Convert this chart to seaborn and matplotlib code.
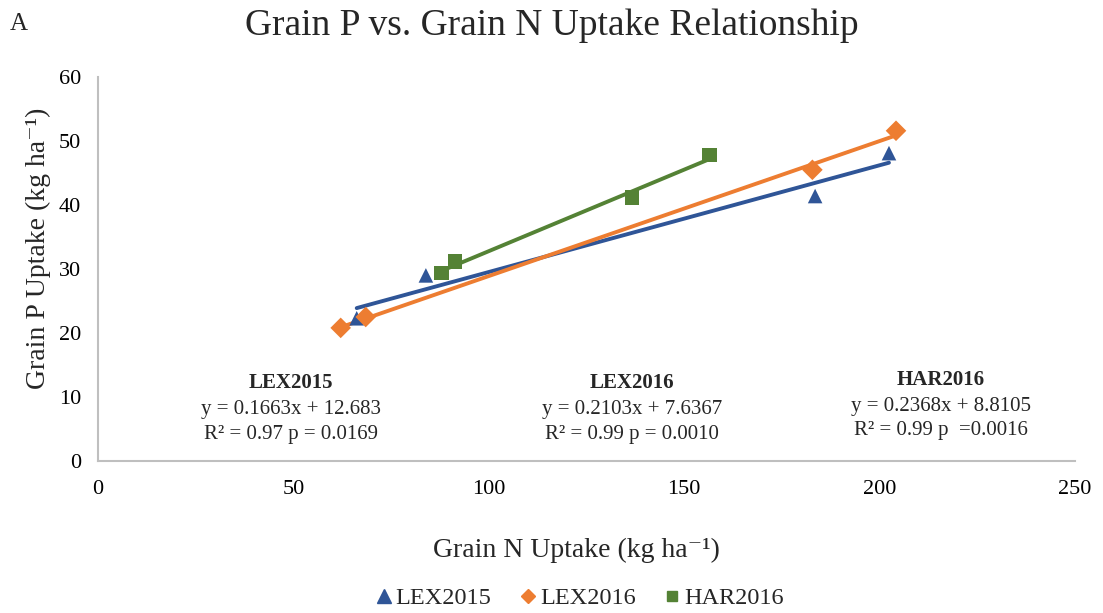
import numpy as np
import pandas as pd
import matplotlib
matplotlib.use('Agg')
import matplotlib.pyplot as plt
import seaborn as sns

# Datos
series = ['LEX2015', 'LEX2016', 'HAR2016']
lex2015_n = [66.2, 83.9, 183.5, 202.4]
lex2015_p = [22.3, 29.0, 41.4, 48.1]
lex2016_n = [62.1, 68.5, 182.8, 204.2]
lex2016_p = [20.8, 22.5, 45.5, 51.6]
har2016_n = [87.9, 91.4, 136.6, 156.5]
har2016_p = [29.4, 31.2, 41.2, 47.8]

etiquetas = {
    'LEX2015': ['y = 0.1663x + 12.683', 'R² = 0.97 p = 0.0169'],
    'LEX2016': ['y = 0.2103x + 7.6367', 'R² = 0.99 p = 0.0010'],
    'HAR2016': ['y = 0.2368x + 8.8105', 'R² = 0.99 p  =0.0016'],
}

colores = {'LEX2015': '#2F5597', 'LEX2016': '#ED7D31', 'HAR2016': '#548235'}
marcadores = {'LEX2015': '^', 'LEX2016': 'D', 'HAR2016': 's'}
tam_leyenda = {'LEX2015': 9.5, 'LEX2016': 7, 'HAR2016': 7.5}

df = pd.DataFrame({
    'n': lex2015_n + lex2016_n + har2016_n,
    'p': lex2015_p + lex2016_p + har2016_p,
    'serie': ['LEX2015'] * 4 + ['LEX2016'] * 4 + ['HAR2016'] * 4,
})

# Configuración
sns.set_style('white')
plt.rcParams['font.family'] = ['Liberation Serif', 'DejaVu Serif']

W, H = 1103, 613
fig = plt.figure(figsize=(W / 100, H / 100), dpi=100)
ax = fig.add_axes([98 / W, 1 - 461 / H, (1075 - 98) / W, (461 - 77) / H])

# Líneas de tendencia
for s in series:
    sns.regplot(data=df[df['serie'] == s], x='n', y='p', ax=ax, scatter=False,
                ci=None, truncate=True, color=colores[s], line_kws={'lw': 2.8, 'zorder': 2})

sns.scatterplot(data=df, x='n', y='p', hue='serie', style='serie', hue_order=series,
                style_order=series, palette=colores, markers=marcadores, s=110,
                edgecolor='none', ax=ax, zorder=3, legend=False)

ax.set_xlim(0, 250)
ax.set_ylim(0, 60)
ax.set_xticks(range(0, 251, 50))
ax.set_yticks(range(0, 61, 10))
ax.tick_params(axis='both', length=0, labelsize=16, colors='black')
ax.tick_params(axis='x', pad=14)
ax.tick_params(axis='y', pad=12)
for lado in ['top', 'right']:
    ax.spines[lado].set_visible(False)
for lado in ['left', 'bottom']:
    ax.spines[lado].set_color('#BFBFBF')
    ax.spines[lado].set_linewidth(1.5)
ax.set_xlabel('')
ax.set_ylabel('')

fig.text(552 / W, 1 - 26 / H, 'Grain P vs. Grain N Uptake Relationship',
         ha='center', va='center', fontsize=27)
fig.text(10 / W, 1 - 24 / H, 'A', ha='left', va='center', fontsize=18)
fig.text(576 / W, 1 - 550 / H, 'Grain N Uptake (kg ha⁻¹)', ha='center', va='center', fontsize=20)
fig.text(38 / W, 1 - 248 / H, 'Grain P Uptake (kg ha⁻¹)', ha='center', va='center',
         fontsize=20, rotation=90)

# Anotaciones de regresión
posiciones = {'LEX2015': (291, 383), 'LEX2016': (632, 383), 'HAR2016': (941, 380)}
for s in series:
    x0, y0 = posiciones[s]
    fig.text(x0 / W, 1 - y0 / H, s, ha='center', va='center', fontsize=15, fontweight='bold')
    for i, linea in enumerate(etiquetas[s]):
        fig.text(x0 / W, 1 - (y0 + 2 + 24.5 * (i + 1)) / H, linea, ha='center', va='center',
                 fontsize=15)

# Leyenda
handles = [plt.Line2D([], [], ls='none', marker=marcadores[s], color=colores[s],
                      markersize=tam_leyenda[s]) for s in series]
fig.legend(handles, series, loc='center', bbox_to_anchor=(579 / W, 1 - 598 / H), ncol=3,
           frameon=False, fontsize=17.5, handletextpad=0.1, columnspacing=1.1,
           handlelength=0.8)

fig.savefig('out.png', dpi=100)
